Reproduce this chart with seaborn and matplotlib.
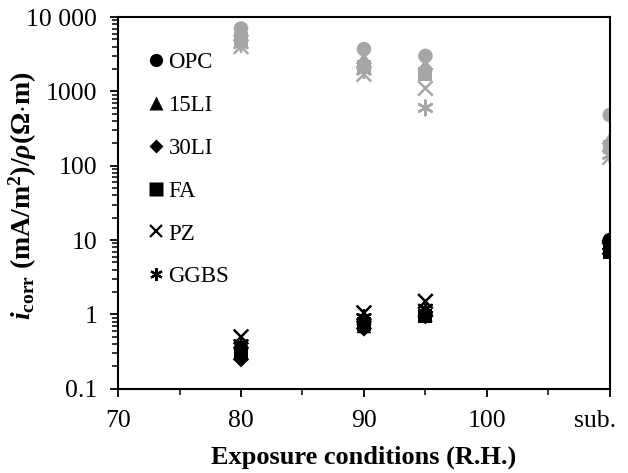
import numpy as np
import pandas as pd
import matplotlib
matplotlib.use('Agg')
import matplotlib.pyplot as plt
import matplotlib.ticker as mticker
import matplotlib.transforms as mtrans
from matplotlib.lines import Line2D
import seaborn as sns

# exposure conditions (sub. = submerged, put at x=110)
conditions = [80, 90, 95, 110]
mixes = ['OPC', '15LI', '30LI', 'FA', 'PZ', 'GGBS']

# corrosion current density, mA/m2 (black)
icorr = {
    'OPC':  [0.35, 0.75, 1.00, 10.0],
    '15LI': [0.30, 0.70, 1.00, 9.5],
    '30LI': [0.25, 0.65, 0.95, 9.0],
    'FA':   [0.30, 0.75, 0.95, 7.0],
    'PZ':   [0.50, 1.05, 1.50, 8.0],
    'GGBS': [0.40, 0.90, 1.20, 8.5],
}
# resistivity, Ohm m (grey)
rho = {
    'OPC':  [7000, 3700, 3000, 480],
    '15LI': [6200, 2800, 2300, 230],
    '30LI': [5600, 2400, 2000, 200],
    'FA':   [5000, 2100, 1700, 180],
    'PZ':   [4000, 1700, 1100, 130],
    'GGBS': [4300, 1900, 600, 140],
}

markers = {'OPC': 'o', '15LI': '^', '30LI': 'D', 'FA': 's', 'PZ': 'x', 'GGBS': (6, 2, 0)}
sizes = {'OPC': 110, '15LI': 110, '30LI': 70, 'FA': 100, 'PZ': 110, 'GGBS': 110}

rows = []
for m in mixes:
    for c, a, b in zip(conditions, icorr[m], rho[m]):
        rows.append({'cond': c, 'mix': m, 'kind': 'rho', 'val': b})
        rows.append({'cond': c, 'mix': m, 'kind': 'icorr', 'val': a})
df = pd.DataFrame(rows)

plt.rcParams['font.family'] = ['Liberation Serif', 'DejaVu Serif']
plt.rcParams['mathtext.fontset'] = 'custom'
plt.rcParams['mathtext.rm'] = 'Liberation Serif:bold'
plt.rcParams['mathtext.bf'] = 'Liberation Serif:bold'
plt.rcParams['mathtext.it'] = 'Liberation Serif:italic:bold'
plt.rcParams['mathtext.bfit'] = 'Liberation Serif:italic:bold'

fig = plt.figure(figsize=(6.28, 4.73), dpi=100)
ax = fig.add_axes([0.188, 0.178, 0.783, 0.786])

pal = {'icorr': 'black', 'rho': '#a6a6a6'}
for m in mixes[::-1]:
    d = df[df['mix'] == m]
    filled = m not in ('PZ', 'GGBS')
    kw = dict(edgecolor='none') if filled else dict(linewidth=1.8)
    sns.scatterplot(data=d, x='cond', y='val', hue='kind', palette=pal,
                    marker=markers[m], s=sizes[m], legend=False, ax=ax, **kw)

ax.set_yscale('log')
ax.set_ylim(0.1, 10000)
ax.set_xlim(70, 110)
ax.set_xticks([70, 80, 90, 100, 110])
ax.set_xticklabels(['70', '80', '90', '100', 'sub.'])
ax.xaxis.set_minor_locator(mticker.FixedLocator([75, 85, 95, 105]))
ax.yaxis.set_major_locator(mticker.FixedLocator([0.1, 1, 10, 100, 1000, 10000]))
ax.yaxis.set_major_formatter(mticker.FixedFormatter(['0.1', '1', '10', '100', '1000', '10 000']))
ax.yaxis.set_minor_locator(mticker.LogLocator(base=10, subs=np.arange(2, 10)))
ax.yaxis.set_minor_formatter(mticker.NullFormatter())

for s in ax.spines.values():
    s.set_linewidth(1.5)
ax.tick_params(which='major', direction='out', length=6, width=1.3, labelsize=18.5, pad=9)
ax.tick_params(axis='x', which='major', pad=9)
ax.tick_params(which='minor', direction='out', length=4, width=1.1)
# shift the "sub." label a bit left like the original
lab = ax.get_xticklabels()[-1]
lab.set_transform(lab.get_transform() + mtrans.ScaledTranslation(-0.15, 0, fig.dpi_scale_trans))

ax.set_xlabel('Exposure conditions (R.H.)', fontsize=19, fontweight='bold', labelpad=10)
ax.set_ylabel(r'$\mathbfit{i}_{\mathbf{corr}}$ (mA/m$^{\mathbf{2}}$)/$\mathbfit{\rho}$($\mathbf{\Omega}$$\cdot$m)',
              fontsize=20, fontweight='bold', labelpad=1)
ax.yaxis.set_label_coords(-0.16, 0.52)

handles = []
for m in mixes:
    if m in ('PZ', 'GGBS'):
        h = Line2D([], [], ls='none', marker=markers[m], color='black', markersize=9, mew=1.6)
    else:
        h = Line2D([], [], ls='none', marker=markers[m], color='black',
                   markersize=9.5 if m != '30LI' else 7.5, mec='none')
    handles.append(h)
ax.legend(handles, mixes, loc='upper left', bbox_to_anchor=(0.035, 0.93), frameon=False,
          fontsize=16.5, labelspacing=0.95, handletextpad=0.05, handlelength=1.0,
          borderaxespad=0)

fig.savefig('out.png', dpi=100)
